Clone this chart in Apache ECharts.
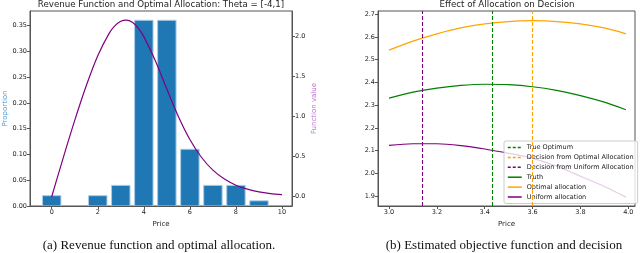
<!DOCTYPE html>
<html>
<head>
<meta charset="utf-8">
<script src="https://cdn.jsdelivr.net/npm/echarts@6/dist/echarts.min.js"></script>
<style>
html,body{margin:0;padding:0;background:#fff;}
#c{width:640px;height:253px;}
</style>
</head>
<body>
<div id="c"></div>
<script>
// ---- Left panel data ----
const barPrices = [0, 1, 2, 3, 4, 5, 6, 7, 8, 9];
const proportions = [0.02, 0, 0.02, 0.04, 0.36, 0.36, 0.11, 0.04, 0.04, 0.01];
const curvePrices = [0, 0.5, 1, 1.5, 2, 2.5, 2.75, 3, 3.25, 3.5, 3.75, 4, 4.5, 5, 5.5, 6, 6.5, 7, 7.5, 8, 8.5, 9, 9.5, 10];
const revenue = [0, 0.485, 0.953, 1.386, 1.762, 2.044, 2.138, 2.193, 2.207, 2.179, 2.110, 2.0, 1.699, 1.345, 1.003, 0.715, 0.493, 0.332, 0.220, 0.144, 0.094, 0.060, 0.039, 0.025];
const leftXTicks = [0, 2, 4, 6, 8, 10];
const leftYTicks = [0, 0.05, 0.10, 0.15, 0.20, 0.25, 0.30, 0.35];
const rightYTicks = [0, 0.5, 1.0, 1.5, 2.0];

// ---- Right panel data ----
const decisionPrices = [3.0, 3.1, 3.2, 3.3, 3.4, 3.5, 3.6, 3.7, 3.8, 3.9, 3.99];
const truth = [2.331, 2.357, 2.375, 2.387, 2.392, 2.390, 2.381, 2.365, 2.342, 2.313, 2.280];
const optimalAlloc = [2.542, 2.582, 2.614, 2.640, 2.658, 2.668, 2.672, 2.668, 2.658, 2.640, 2.614];
const uniformAlloc = [2.123, 2.130, 2.130, 2.122, 2.107, 2.088, 2.066, 2.031, 1.987, 1.942, 1.895];
const trueOptimum = 3.426;
const optimalDecision = 3.602;
const uniformDecision = 3.139;
const bXTicks = [3.0, 3.2, 3.4, 3.6, 3.8, 4.0];
const bYTicks = [1.9, 2.0, 2.1, 2.2, 2.3, 2.4, 2.5, 2.6, 2.7];

const FONT = 'DejaVu Sans';
const TXT = '#222';
const AX = '#555';
const GREEN = '#008000', ORANGE = '#ffa500', PURPLE = '#800080', BLUE = '#1f77b4';
const TICKFS = 6.5, LABELFS = 7;

function axisCommon(ticks, fmt) {
  return {
    axisLine: {show: true, onZero: false, lineStyle: {color: AX, width: 1}},
    axisTick: {show: true, length: 3, lineStyle: {color: AX}, customValues: ticks},
    axisLabel: {show: true, fontFamily: FONT, fontSize: TICKFS, color: TXT, margin: 3, customValues: ticks, formatter: fmt},
    splitLine: {show: false}
  };
}

const chart = echarts.init(document.getElementById('c'), null, {renderer: 'canvas'});

const option = {
  animation: false,
  backgroundColor: '#fff',
  grid: [
    {left: 30, right: 348, top: 11, bottom: 47, show: true, borderColor: AX, borderWidth: 1, backgroundColor: 'transparent'},
    {left: 378, right: 5, top: 11, bottom: 47, show: true, borderColor: AX, borderWidth: 1, backgroundColor: 'transparent'}
  ],
  xAxis: [
    Object.assign({type: 'value', gridIndex: 0, min: -0.942, max: 10.434,
      name: 'Price', nameLocation: 'middle', nameGap: 14,
      nameTextStyle: {fontFamily: FONT, fontSize: LABELFS, color: TXT}},
      axisCommon(leftXTicks, v => String(Math.round(v)))),
    Object.assign({type: 'value', gridIndex: 1, min: 2.954, max: 4.028,
      name: 'Price', nameLocation: 'middle', nameGap: 14,
      nameTextStyle: {fontFamily: FONT, fontSize: LABELFS, color: TXT}},
      axisCommon(bXTicks, v => v.toFixed(1)))
  ],
  yAxis: [
    Object.assign({type: 'value', gridIndex: 0, position: 'left', min: 0, max: 0.378,
      name: 'Proportion', nameLocation: 'middle', nameGap: 19, nameRotate: 90,
      nameTextStyle: {fontFamily: FONT, fontSize: LABELFS, color: '#4f98d3'}},
      axisCommon(leftYTicks, v => v.toFixed(2))),
    Object.assign({type: 'value', gridIndex: 0, position: 'right', min: -0.116, max: 2.32,
      name: 'Function value', nameLocation: 'middle', nameGap: 19, nameRotate: 90,
      nameTextStyle: {fontFamily: FONT, fontSize: LABELFS, color: '#bf6fd0'}},
      axisCommon(rightYTicks, v => v.toFixed(1))),
    Object.assign({type: 'value', gridIndex: 1, position: 'left', min: 1.856, max: 2.7145},
      axisCommon(bYTicks, v => v.toFixed(1)))
  ],
  legend: {
    show: true,
    orient: 'vertical',
    left: 504, top: 141,
    padding: [3, 4, 3, 3],
    itemWidth: 14, itemHeight: 7, itemGap: 2.9,
    backgroundColor: 'rgba(255,255,255,0.8)',
    borderColor: '#cccccc', borderWidth: 1, borderRadius: 2,
    itemStyle: {opacity: 0},
    lineStyle: {width: 1.5},
    textStyle: {fontFamily: FONT, fontSize: 6.5, color: TXT},
    data: ['True Optimum', 'Decision from Optimal Allocation', 'Decision from Uniform Allocation', 'Truth', 'Optimal allocation', 'Uniform allocation']
  },
  graphic: [
    {type: 'text', x: 161, y: 5, style: {text: 'Revenue Function and Optimal Allocation: Theta = [-4,1]', font: '8.7px "DejaVu Sans"', fill: TXT, textAlign: 'center', textVerticalAlign: 'middle'}},
    {type: 'text', x: 507, y: 5, style: {text: 'Effect of Allocation on Decision', font: '8.7px "DejaVu Sans"', fill: TXT, textAlign: 'center', textVerticalAlign: 'middle'}},
    {type: 'text', x: 159, y: 246, style: {text: '(a) Revenue function and optimal allocation.', font: '13px "Liberation Serif"', fill: '#111', textAlign: 'center', textVerticalAlign: 'middle'}},
    {type: 'text', x: 504, y: 246, style: {text: '(b) Estimated objective function and decision', font: '13px "Liberation Serif"', fill: '#111', textAlign: 'center', textVerticalAlign: 'middle'}}
  ],
  series: [
    {
      type: 'custom', name: 'Allocation', xAxisIndex: 0, yAxisIndex: 0,
      data: barPrices.map((p, i) => [p, proportions[i]]),
      encode: {x: 0, y: 1},
      clip: true,
      renderItem: function (params, api) {
        const x = api.value(0), y = api.value(1);
        if (!y) return null;
        const a = api.coord([x - 0.4, y]);
        const b = api.coord([x + 0.4, 0]);
        return {type: 'rect', shape: {x: a[0], y: a[1], width: b[0] - a[0], height: b[1] - a[1]},
          style: {fill: BLUE, stroke: '#a8cbe7', lineWidth: 1}};
      },
      z: 2
    },
    {
      type: 'line', name: 'Revenue', xAxisIndex: 0, yAxisIndex: 1,
      data: curvePrices.map((p, i) => [p, revenue[i]]),
      smooth: 0.3, showSymbol: false, symbol: 'none',
      lineStyle: {color: PURPLE, width: 1.2}, z: 3
    },
    {
      type: 'line', name: 'True Optimum', xAxisIndex: 1, yAxisIndex: 2, data: [],
      symbol: 'none', itemStyle: {color: GREEN}, lineStyle: {color: GREEN, type: [3, 2], width: 1.2},
      markLine: {silent: true, symbol: 'none', label: {show: false}, animation: false,
        lineStyle: {color: GREEN, type: [4, 2], width: 1.1}, data: [{xAxis: trueOptimum}]}
    },
    {
      type: 'line', name: 'Decision from Optimal Allocation', xAxisIndex: 1, yAxisIndex: 2, data: [],
      symbol: 'none', itemStyle: {color: ORANGE}, lineStyle: {color: ORANGE, type: [3, 2], width: 1.2},
      markLine: {silent: true, symbol: 'none', label: {show: false}, animation: false,
        lineStyle: {color: ORANGE, type: [4, 2], width: 1.1}, data: [{xAxis: optimalDecision}]}
    },
    {
      type: 'line', name: 'Decision from Uniform Allocation', xAxisIndex: 1, yAxisIndex: 2, data: [],
      symbol: 'none', itemStyle: {color: PURPLE}, lineStyle: {color: PURPLE, type: [3, 2], width: 1.2},
      markLine: {silent: true, symbol: 'none', label: {show: false}, animation: false,
        lineStyle: {color: PURPLE, type: [4, 2], width: 1.1}, data: [{xAxis: uniformDecision}]}
    },
    {
      type: 'line', name: 'Truth', xAxisIndex: 1, yAxisIndex: 2,
      data: decisionPrices.map((p, i) => [p, truth[i]]),
      smooth: 0.3, symbol: 'none', itemStyle: {color: GREEN}, lineStyle: {color: GREEN, width: 1.2}
    },
    {
      type: 'line', name: 'Optimal allocation', xAxisIndex: 1, yAxisIndex: 2,
      data: decisionPrices.map((p, i) => [p, optimalAlloc[i]]),
      smooth: 0.3, symbol: 'none', itemStyle: {color: ORANGE}, lineStyle: {color: ORANGE, width: 1.2}
    },
    {
      type: 'line', name: 'Uniform allocation', xAxisIndex: 1, yAxisIndex: 2,
      data: decisionPrices.map((p, i) => [p, uniformAlloc[i]]),
      smooth: 0.3, symbol: 'none', itemStyle: {color: PURPLE}, lineStyle: {color: PURPLE, width: 1.2}
    }
  ]
};
chart.setOption(option);
</script>
</body>
</html>
